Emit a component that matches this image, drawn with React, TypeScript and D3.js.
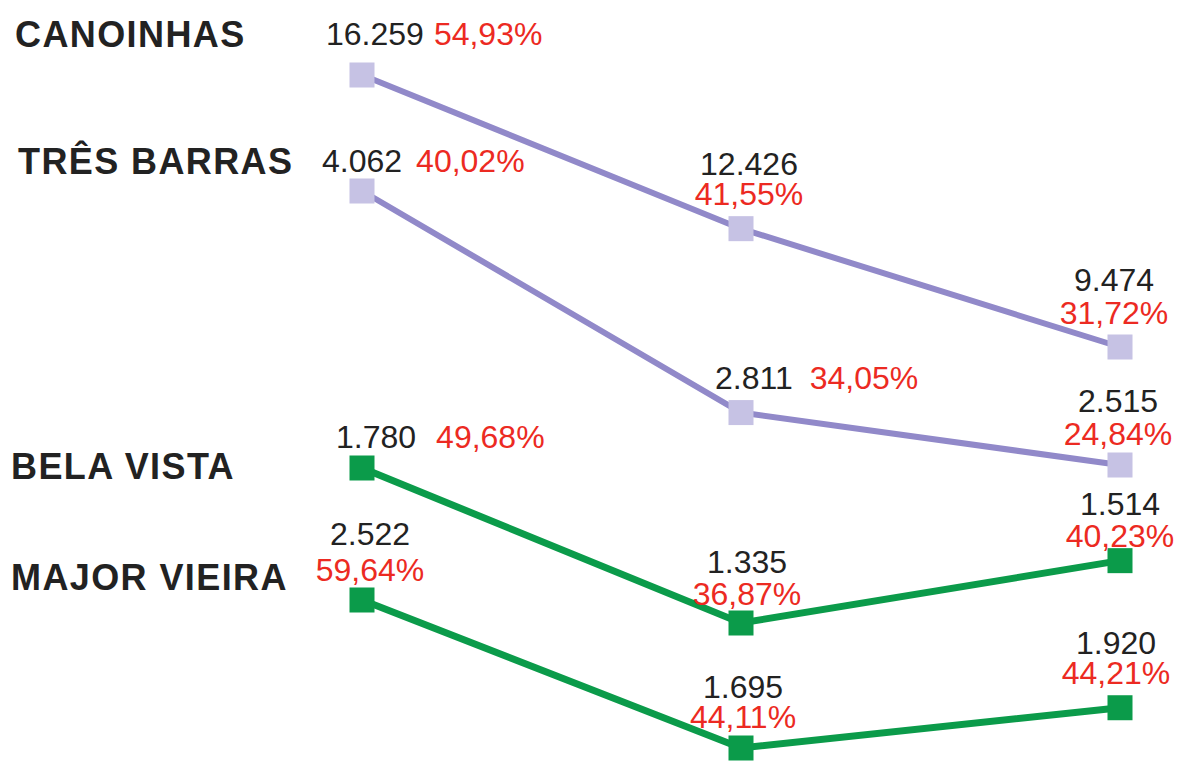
import React from 'react';
import * as d3 from 'd3';

// ---- data ----
const periods = ['P1', 'P2', 'P3'];
const seriesNames = ['CANOINHAS', 'TRÊS BARRAS', 'BELA VISTA', 'MAJOR VIEIRA'];
const canoinhasValues = [16259, 12426, 9474];
const canoinhasPct = [54.93, 41.55, 31.72];
const tresBarrasValues = [4062, 2811, 2515];
const tresBarrasPct = [40.02, 34.05, 24.84];
const belaVistaValues = [1780, 1335, 1514];
const belaVistaPct = [49.68, 36.87, 40.23];
const majorVieiraValues = [2522, 1695, 1920];
const majorVieiraPct = [59.64, 44.11, 44.21];

// ---- layout / style ----
const W = 1178;
const H = 765;
const PURPLE_LINE = '#9189c9';
const PURPLE_MARK = '#c6c2e4';
const GREEN = '#0b9b4a';
const RED = '#ec2a22';
const INK = '#222222';

type LabelCfg = { mode: 'inline' | 'stack'; dx: number; dy: number; gap: number };

const seriesStyle = [
  {
    line: PURPLE_LINE, mark: PURPLE_MARK, band: [75, 347], nameX: 15, nameY: 47,
    labels: [
      { mode: 'inline', dx: -36, dy: -30, gap: 10 },
      { mode: 'stack', dx: 8, dy: -24, gap: 30 },
      { mode: 'stack', dx: -6, dy: -23, gap: 33 },
    ] as LabelCfg[],
  },
  {
    line: PURPLE_LINE, mark: PURPLE_MARK, band: [191, 465], nameX: 18, nameY: 174,
    labels: [
      { mode: 'inline', dx: -40, dy: -19, gap: 14 },
      { mode: 'inline', dx: -26, dy: -24, gap: 17 },
      { mode: 'stack', dx: -2, dy: -20, gap: 33 },
    ] as LabelCfg[],
  },
  {
    line: GREEN, mark: GREEN, band: [468, 623], nameX: 11, nameY: 479,
    labels: [
      { mode: 'inline', dx: -26, dy: -20, gap: 20 },
      { mode: 'stack', dx: 6, dy: -18, gap: 32 },
      { mode: 'stack', dx: 0, dy: -14, gap: 32 },
    ] as LabelCfg[],
  },
  {
    line: GREEN, mark: GREEN, band: [600, 748], nameX: 11, nameY: 590,
    labels: [
      { mode: 'stack', dx: 8, dy: -19, gap: 36 },
      { mode: 'stack', dx: 2, dy: -20, gap: 30 },
      { mode: 'stack', dx: -4, dy: -24, gap: 30 },
    ] as LabelCfg[],
  },
];

const valueSeries = [canoinhasValues, tresBarrasValues, belaVistaValues, majorVieiraValues];
const pctSeries = [canoinhasPct, tresBarrasPct, belaVistaPct, majorVieiraPct];

const fmtValue = (v: number) => d3.format(',')(v).replace(/,/g, '.');
const fmtPct = (p: number) => d3.format('.2f')(p).replace('.', ',') + '%';

const FONT = '"Liberation Sans", Arial, Helvetica, sans-serif';

export default function App() {
  const x = d3.scalePoint<string>().domain(periods).range([362, 1120]);

  return (
    <svg
      width={W}
      height={H}
      viewBox={`0 0 ${W} ${H}`}
      style={{ position: 'absolute', left: 0, top: 0, background: '#ffffff' }}
      fontFamily={FONT}
    >
      <rect x={0} y={0} width={W} height={H} fill="#ffffff" />
      {seriesNames.map((name, si) => {
        const vals = valueSeries[si];
        const pcts = pctSeries[si];
        const st = seriesStyle[si];
        const [lo, hi] = d3.extent(vals) as [number, number];
        const y = d3.scaleLinear().domain([lo, hi]).range([st.band[1], st.band[0]]);
        const line = d3
          .line<number>()
          .x((_, i) => x(periods[i]) as number)
          .y((d) => y(d));
        const ms = 25;
        return (
          <g key={name}>
            <text
              x={st.nameX}
              y={st.nameY}
              fontSize={36}
              fontWeight="bold"
              fill={INK}
              letterSpacing={1.4}
            >
              {name}
            </text>
            <path d={line(vals) || ''} fill="none" stroke={st.line} strokeWidth={si < 2 ? 6 : 7} />
            {vals.map((v, i) => {
              const cx = x(periods[i]) as number;
              const cy = y(v);
              return (
                <rect
                  key={'m' + i}
                  x={cx - ms / 2}
                  y={cy - ms / 2}
                  width={ms}
                  height={ms}
                  fill={st.mark}
                />
              );
            })}
            {vals.map((v, i) => {
              const cx = x(periods[i]) as number;
              const cy = y(v);
              const lc = st.labels[i];
              if (lc.mode === 'inline') {
                return (
                  <text key={'l' + i} x={cx + lc.dx} y={cy + lc.dy} fontSize={32} fill={INK}>
                    <tspan>{fmtValue(v)}</tspan>
                    <tspan dx={lc.gap} fill={RED}>
                      {fmtPct(pcts[i])}
                    </tspan>
                  </text>
                );
              }
              return (
                <g key={'l' + i}>
                  <text
                    x={cx + lc.dx}
                    y={cy + lc.dy - lc.gap}
                    fontSize={32}
                    fill={INK}
                    textAnchor="middle"
                  >
                    {fmtValue(v)}
                  </text>
                  <text
                    x={cx + lc.dx}
                    y={cy + lc.dy}
                    fontSize={32}
                    fill={RED}
                    textAnchor="middle"
                  >
                    {fmtPct(pcts[i])}
                  </text>
                </g>
              );
            })}
          </g>
        );
      })}
    </svg>
  );
}
